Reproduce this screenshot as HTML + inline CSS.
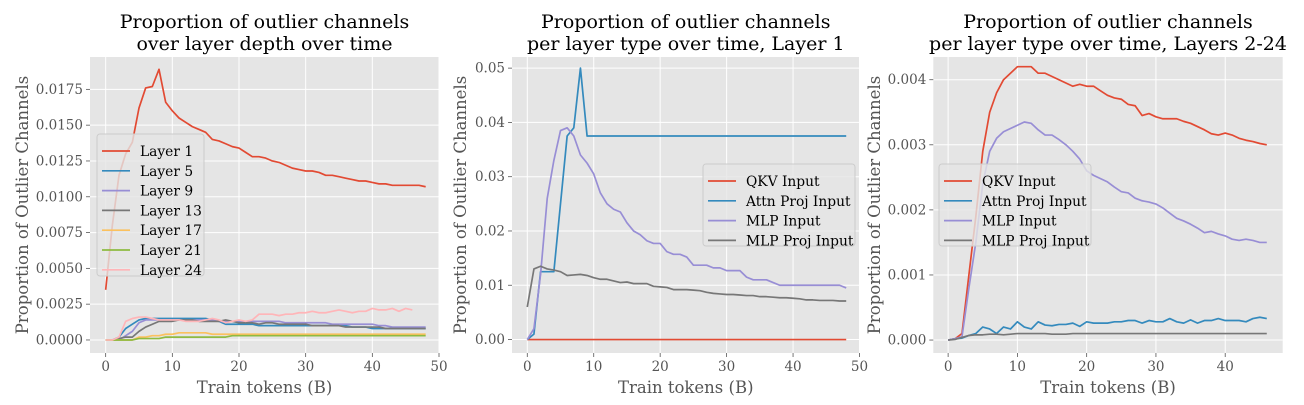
<!DOCTYPE html>
<html><head><meta charset="utf-8">
<style>
html,body{margin:0;padding:0;background:#fff;}
svg{display:block;font-family:"DejaVu Serif","Liberation Serif",serif;}
</style></head>
<body>
<svg id="fig" width="1304" height="405" viewBox="0 0 1304 405" xmlns="http://www.w3.org/2000/svg"></svg>
<script>
// ---------- Data ----------
const p1Layer1 = [0.0035,0.008,0.0115,0.013,0.0138,0.0162,0.0176,0.0177,0.0189,0.0166,0.016,0.0155,0.0152,0.0149,0.0147,0.0145,0.014,0.0139,0.0137,0.0135,0.0134,0.0131,0.0128,0.0128,0.0127,0.0125,0.0124,0.0122,0.012,0.0119,0.0118,0.0118,0.0117,0.0115,0.0115,0.0114,0.0113,0.0112,0.0111,0.0111,0.011,0.0109,0.0109,0.0108,0.0108,0.0108,0.0108,0.0108,0.0107];
const p1Layer5 = [0,0,0.0002,0.0008,0.0011,0.0014,0.0015,0.0015,0.0015,0.0015,0.0015,0.0015,0.0015,0.0015,0.0015,0.0015,0.0014,0.0013,0.0011,0.0011,0.0011,0.0011,0.0011,0.001,0.001,0.001,0.001,0.001,0.001,0.001,0.001,0.001,0.001,0.001,0.001,0.001,0.001,0.0009,0.0009,0.0009,0.0008,0.0008,0.0008,0.0008,0.0008,0.0008,0.0008,0.0008,0.0008];
const p1Layer9 = [0,0,0,0.0003,0.0006,0.0012,0.0014,0.0014,0.0014,0.0014,0.0014,0.0014,0.0014,0.0014,0.0014,0.0014,0.0014,0.0013,0.0013,0.0013,0.0013,0.0013,0.0013,0.0013,0.0013,0.0013,0.0013,0.0012,0.0012,0.0012,0.0012,0.0012,0.0012,0.0012,0.0011,0.0011,0.0011,0.0011,0.0011,0.0011,0.0011,0.001,0.001,0.0009,0.0009,0.0009,0.0009,0.0009,0.0009];
const p1Layer13 = [0,0,0.0001,0.0002,0.0002,0.0006,0.0009,0.0011,0.0013,0.0013,0.0013,0.0014,0.0014,0.0014,0.0013,0.0013,0.0013,0.0013,0.0014,0.0013,0.0012,0.0012,0.0012,0.0011,0.0012,0.0012,0.0011,0.0011,0.0011,0.0011,0.0011,0.001,0.001,0.001,0.001,0.001,0.0009,0.0009,0.0009,0.0009,0.0009,0.0009,0.0008,0.0008,0.0008,0.0008,0.0008,0.0008,0.0008];
const p1Layer17 = [0,0,0,0,0,0.0002,0.0002,0.0003,0.0003,0.0004,0.0004,0.0005,0.0005,0.0005,0.0005,0.0005,0.0004,0.0004,0.0004,0.0004,0.0004,0.0004,0.0004,0.0004,0.0004,0.0004,0.0004,0.0004,0.0004,0.0004,0.0004,0.0004,0.0004,0.0004,0.0004,0.0004,0.0004,0.0004,0.0004,0.0004,0.0004,0.0004,0.0004,0.0004,0.0004,0.0004,0.0004,0.0004,0.0004];
const p1Layer21 = [0,0,0,0,0,0.0001,0.0001,0.0001,0.0001,0.0002,0.0002,0.0002,0.0002,0.0002,0.0002,0.0002,0.0002,0.0002,0.0002,0.0003,0.0003,0.0003,0.0003,0.0003,0.0003,0.0003,0.0003,0.0003,0.0003,0.0003,0.0003,0.0003,0.0003,0.0003,0.0003,0.0003,0.0003,0.0003,0.0003,0.0003,0.0003,0.0003,0.0003,0.0003,0.0003,0.0003,0.0003,0.0003,0.0003];
const p1Layer24 = [0,0,0.0002,0.0013,0.0015,0.0016,0.0016,0.0015,0.0014,0.0014,0.0014,0.0014,0.0013,0.0013,0.0013,0.0014,0.0015,0.0014,0.0012,0.0013,0.0014,0.0013,0.0014,0.0018,0.0018,0.0018,0.0017,0.0018,0.0018,0.0019,0.0019,0.002,0.0019,0.0019,0.002,0.0021,0.002,0.0019,0.002,0.002,0.0022,0.0021,0.0021,0.0022,0.002,0.0022,0.0021];

const p2Qkv = Array(49).fill(0);
const p2Attn = [0,0.001,0.0125,0.0125,0.0125,0.025,0.0375,0.039,0.05,0.0375,0.0375,0.0375,0.0375,0.0375,0.0375,0.0375,0.0375,0.0375,0.0375,0.0375,0.0375,0.0375,0.0375,0.0375,0.0375,0.0375,0.0375,0.0375,0.0375,0.0375,0.0375,0.0375,0.0375,0.0375,0.0375,0.0375,0.0375,0.0375,0.0375,0.0375,0.0375,0.0375,0.0375,0.0375,0.0375,0.0375,0.0375,0.0375,0.0375];
const p2Mlp = [0,0.002,0.012,0.026,0.033,0.0385,0.039,0.0375,0.034,0.0325,0.0305,0.027,0.025,0.024,0.0235,0.0215,0.02,0.0193,0.0182,0.0177,0.0177,0.0162,0.0157,0.0157,0.0152,0.0137,0.0137,0.0137,0.0132,0.0132,0.0127,0.0127,0.0127,0.0115,0.011,0.011,0.011,0.0105,0.01,0.01,0.01,0.01,0.01,0.01,0.01,0.01,0.01,0.01,0.0095];
const p2MlpProj = [0.006,0.013,0.0135,0.013,0.0128,0.0125,0.0118,0.0119,0.012,0.0118,0.0114,0.0111,0.0111,0.0108,0.0105,0.0106,0.0103,0.0103,0.0103,0.0098,0.0097,0.0096,0.0092,0.0092,0.0092,0.0091,0.009,0.0087,0.0085,0.0084,0.0083,0.0083,0.0082,0.0081,0.0081,0.0079,0.0079,0.0078,0.0077,0.0077,0.0076,0.0075,0.0073,0.0073,0.0072,0.0072,0.0072,0.0071,0.0071];

const p3Qkv = [0,0.00002,0.0001,0.001,0.0019,0.0029,0.0035,0.0038,0.004,0.0041,0.0042,0.0042,0.0042,0.0041,0.0041,0.00405,0.004,0.00395,0.0039,0.00393,0.0039,0.0039,0.00383,0.00376,0.00372,0.0037,0.00362,0.0036,0.00345,0.00348,0.00343,0.0034,0.0034,0.0034,0.00336,0.00333,0.00328,0.00323,0.00317,0.00315,0.00318,0.00315,0.0031,0.00307,0.00305,0.00302,0.003];
const p3Attn = [0,0.00002,0.00003,0.00007,0.0001,0.0002,0.00017,0.0001,0.0002,0.00017,0.00028,0.0002,0.00017,0.00028,0.00023,0.00022,0.00024,0.00024,0.00026,0.00021,0.00028,0.00026,0.00026,0.00026,0.00028,0.00028,0.0003,0.0003,0.00026,0.0003,0.00028,0.00028,0.00033,0.00028,0.00026,0.00031,0.00026,0.0003,0.0003,0.00033,0.0003,0.0003,0.0003,0.00028,0.00033,0.00035,0.00033];
const p3Mlp = [0,0.00002,0.00005,0.0008,0.0015,0.0024,0.0029,0.0031,0.0032,0.00325,0.0033,0.00335,0.00333,0.00323,0.00315,0.00315,0.00308,0.003,0.0029,0.00278,0.0026,0.00253,0.00248,0.00243,0.00235,0.00228,0.00226,0.00218,0.00214,0.00212,0.00209,0.00203,0.00195,0.00187,0.00183,0.00178,0.00172,0.00165,0.00167,0.00163,0.0016,0.00155,0.00153,0.00155,0.00153,0.0015,0.0015];
const p3MlpProj = [0,0.00001,0.00004,0.00007,0.00008,0.00008,0.00009,0.00009,0.00008,0.00009,0.0001,0.0001,0.0001,0.0001,0.0001,0.00009,0.00009,0.00009,0.0001,0.0001,0.0001,0.0001,0.0001,0.0001,0.0001,0.0001,0.0001,0.0001,0.0001,0.0001,0.0001,0.0001,0.0001,0.0001,0.0001,0.0001,0.0001,0.0001,0.0001,0.0001,0.0001,0.0001,0.0001,0.0001,0.0001,0.0001,0.0001];

const p1YTicks = [0,0.0025,0.005,0.0075,0.01,0.0125,0.015,0.0175];
const p1YLabels = ["0.0000","0.0025","0.0050","0.0075","0.0100","0.0125","0.0150","0.0175"];
const p2YTicks = [0,0.01,0.02,0.03,0.04,0.05];
const p2YLabels = ["0.00","0.01","0.02","0.03","0.04","0.05"];
const p3YTicks = [0,0.001,0.002,0.003,0.004];
const p3YLabels = ["0.000","0.001","0.002","0.003","0.004"];
const xTicks12 = [0,10,20,30,40,50];
const xTicks3 = [0,10,20,30,40];
const p1Names = ["Layer 1","Layer 5","Layer 9","Layer 13","Layer 17","Layer 21","Layer 24"];
const typeNames = ["QKV Input","Attn Proj Input","MLP Input","MLP Proj Input"];

// ---------- Drawing ----------
const NS = "http://www.w3.org/2000/svg";
const svg = document.getElementById("fig");
function el(tag, attrs, parent){
  const e = document.createElementNS(NS, tag);
  for (const k in attrs) e.setAttribute(k, attrs[k]);
  (parent||svg).appendChild(e);
  return e;
}
const C = {red:"#E24A33",blue:"#348ABD",purple:"#988ED5",gray:"#777777",yellow:"#FBC15E",green:"#8EBA42",pink:"#FFB5B8"};

function panel(cfg){
  const g = el("g",{});
  
  
  const L=cfg.left,R=cfg.right,T=57,B=353;
  const sx = v => L + (v-cfg.xmin)/(cfg.xmax-cfg.xmin)*(R-L);
  const sy = v => B - (v-cfg.ymin)/(cfg.ymax-cfg.ymin)*(B-T);
  const bg = el("rect",{x:L,y:T,width:R-L,height:B-T,fill:"#E5E5E5"},g);
  
  
  cfg.yTicks.forEach((v,i)=>{
    const y=sy(v);
    el("line",{x1:L,x2:R,y1:y,y2:y,stroke:"#fff","stroke-width":1},g);
    el("line",{x1:L-4,x2:L,y1:y,y2:y,stroke:"#555","stroke-width":0.8},g);
    const t=el("text",{x:L-7,y:y+4.5,"text-anchor":"end","font-size":13.5,fill:"#555"},g);
    
    
    t.textContent=cfg.yLabels[i];
  });
  cfg.xTicks.forEach(v=>{
    const x=sx(v);
    if (x<=R+1) el("line",{x1:x,x2:x,y1:T,y2:B,stroke:"#fff","stroke-width":1},g);
    el("line",{x1:x,x2:x,y1:B,y2:B+4,stroke:"#555","stroke-width":0.8},g);
    const t=el("text",{x:x,y:B+18,"text-anchor":"middle","font-size":13.5,fill:"#555"},g);
    
    
    t.textContent=String(v);
  });
  cfg.series.forEach((s,i)=>{
    const pts=s.data.map((v,j)=>sx(j).toFixed(2)+","+sy(v).toFixed(2)).join(" ");
    const p=el("polyline",{points:pts,fill:"none",stroke:s.color,"stroke-width":1.7,"stroke-linejoin":"round"},g);
    
    
  });
  cfg.title.forEach((line,i)=>{
    const t=el("text",{x:(L+R)/2,y:28+i*22,"text-anchor":"middle","font-size":19,fill:"#000"},g);
    
    
    t.textContent=line;
  });
  const xl=el("text",{x:(L+R)/2,y:393,"text-anchor":"middle","font-size":16.5,fill:"#555"},g);
  
  
  xl.textContent="Train tokens (B)";
  const yl=el("text",{x:0,y:0,"text-anchor":"middle","font-size":16.5,fill:"#555",transform:`translate(${cfg.ylabX},${(T+B)/2}) rotate(-90)`},g);
  
  
  yl.textContent="Proportion of Outlier Channels";
  const lg=el("g",{},g);
  
  
  const lb=cfg.legend;
  el("rect",{x:lb.x,y:lb.y,width:lb.w,height:lb.h,rx:3,fill:"#E5E5E5","fill-opacity":0.8,stroke:"#ccc","stroke-width":1},lg);
  cfg.series.forEach((s,i)=>{
    const y=lb.y+17+i*lb.dy;
    const e=el("g",{},lg);
    
    
    el("line",{x1:lb.x+5,x2:lb.x+33,y1:y,y2:y,stroke:s.color,"stroke-width":1.7},e);
    const t=el("text",{x:lb.x+43,y:y+5,"font-size":13.8,fill:"#000"},e);
    t.textContent=cfg.names[i];
  });
}

panel({name:"panel-layer-depth",left:90,right:439,xmin:-2.35,xmax:50,ymin:-0.00091,ymax:0.01976,
  yTicks:p1YTicks,yLabels:p1YLabels,xTicks:xTicks12,ylabX:28,
  title:["Proportion of outlier channels","over layer depth over time"],
  names:p1Names,
  series:[{data:p1Layer1,color:C.red},{data:p1Layer5,color:C.blue},{data:p1Layer9,color:C.purple},{data:p1Layer13,color:C.gray},{data:p1Layer17,color:C.yellow},{data:p1Layer21,color:C.green},{data:p1Layer24,color:C.pink}],
  legend:{x:97,y:134,w:107,h:142,dy:19.8}});

panel({name:"panel-layer1",left:512,right:859.5,xmin:-2.3,xmax:50,ymin:-0.00248,ymax:0.05205,
  yTicks:p2YTicks,yLabels:p2YLabels,xTicks:xTicks12,ylabX:466,
  title:["Proportion of outlier channels","per layer type over time, Layer 1"],
  names:typeNames,
  series:[{data:p2Qkv,color:C.red},{data:p2Attn,color:C.blue},{data:p2Mlp,color:C.purple},{data:p2MlpProj,color:C.gray}],
  legend:{x:703,y:164,w:152,h:82,dy:19.8}});

panel({name:"panel-layers-2-24",left:933.3,right:1282.7,xmin:-2.14,xmax:48.3,ymin:-0.000199,ymax:0.004349,
  yTicks:p3YTicks,yLabels:p3YLabels,xTicks:xTicks3,ylabX:880,
  title:["Proportion of outlier channels","per layer type over time, Layers 2-24"],
  names:typeNames,
  series:[{data:p3Qkv,color:C.red},{data:p3Attn,color:C.blue},{data:p3Mlp,color:C.purple},{data:p3MlpProj,color:C.gray}],
  legend:{x:939,y:164,w:152,h:82,dy:19.8}});
</script>
</body></html>
